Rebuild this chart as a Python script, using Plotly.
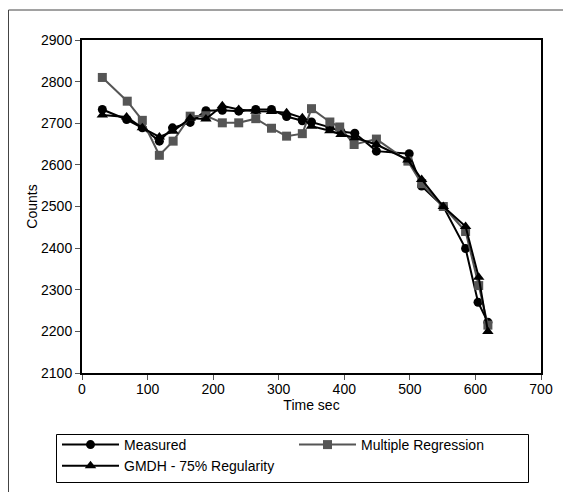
import plotly.graph_objects as go

time_measured = [31, 68, 92, 118, 138, 165, 189, 214, 239, 265, 289, 312, 336, 350, 378, 395, 416, 449, 499, 518, 551, 585, 604, 619]
measured = [2733, 2709, 2689, 2657, 2689, 2702, 2730, 2731, 2729, 2733, 2733, 2716, 2706, 2703, 2690, 2680, 2676, 2633, 2627, 2549, 2500, 2399, 2270, 2222]

time_mr = [31, 69, 92, 118, 139, 165, 189, 214, 239, 265, 289, 312, 336, 350, 378, 393, 415, 449, 497, 518, 551, 585, 605, 619]
multiple_regression = [2810, 2753, 2707, 2623, 2657, 2717, 2718, 2701, 2701, 2711, 2688, 2669, 2675, 2735, 2703, 2691, 2649, 2662, 2609, 2555, 2500, 2440, 2310, 2215]

time_gmdh = [31, 68, 92, 118, 139, 165, 189, 214, 239, 265, 289, 312, 336, 350, 378, 395, 416, 449, 497, 518, 551, 585, 605, 619]
gmdh = [2720, 2715, 2689, 2667, 2681, 2712, 2710, 2742, 2733, 2729, 2728, 2725, 2713, 2693, 2682, 2673, 2665, 2649, 2612, 2565, 2500, 2452, 2330, 2200]

FONT = "Liberation Sans, Arial, sans-serif"

fig = go.Figure()
fig.add_trace(go.Scatter(x=time_measured, y=measured, name="Measured", mode="lines+markers",
                         line=dict(color="black", width=2),
                         marker=dict(symbol="circle", size=9, color="black")))
fig.add_trace(go.Scatter(x=time_mr, y=multiple_regression, name="Multiple Regression", mode="lines+markers",
                         line=dict(color="#555555", width=2),
                         marker=dict(symbol="square", size=9, color="#555555")))
fig.add_trace(go.Scatter(x=time_gmdh, y=gmdh, name="GMDH - 75% Regularity", mode="lines+markers",
                         line=dict(color="black", width=2),
                         marker=dict(symbol="triangle-up", size=10, color="black")))

# page has an 8px body margin; figure coordinates are page coordinates minus 8
W, H = 563, 484
L, R, T, B = 74, 533, 32, 365
pw, ph = R - L, B - T

def px(x):
    return (x - L) / pw

def py(y):
    return (B - y) / ph

fig.update_layout(
    width=W, height=H,
    margin=dict(l=L, r=W - R, t=T, b=H - B, autoexpand=False),
    paper_bgcolor="white", plot_bgcolor="white",
    font=dict(family=FONT, size=14, color="black"),
    showlegend=True,
    legend=dict(orientation="h", x=px(49), y=py(421), xanchor="left", yanchor="top",
                itemwidth=57,
                entrywidth=165, entrywidthmode="pixels",
                borderwidth=0, bgcolor="rgba(0,0,0,0)",
                font=dict(family=FONT, size=14, color="black"), traceorder="normal"),
    shapes=[
        dict(type="rect", xref="paper", yref="paper",
             x0=px(0.5), x1=px(600), y0=py(520), y1=py(2),
             line=dict(color="#444444", width=1), layer="below"),
        dict(type="rect", xref="paper", yref="paper",
             x0=px(48.5), x1=px(520.5), y0=py(474.5), y1=py(426.5),
             line=dict(color="black", width=1), fillcolor="white", layer="below"),
    ],
)
fig.update_xaxes(range=[0, 700], dtick=100, showgrid=False, zeroline=False,
                 showline=True, linecolor="black", linewidth=2, mirror=True,
                 ticks="outside", ticklen=5, tickcolor="#555555", tickwidth=1,
                 tickfont=dict(family=FONT, size=14), automargin=False,
                 ticklabelstandoff=-3,
                 title=dict(text="Time sec", font=dict(family=FONT, size=14), standoff=0))
fig.update_yaxes(range=[2100, 2900], dtick=100, showgrid=False, zeroline=False,
                 showline=True, linecolor="black", linewidth=2, mirror=True,
                 ticks="outside", ticklen=5, tickcolor="#555555", tickwidth=1,
                 tickfont=dict(family=FONT, size=14), automargin=False,
                 title=dict(text="Counts", font=dict(family=FONT, size=14), standoff=0))

fig.write_html("out.html")
